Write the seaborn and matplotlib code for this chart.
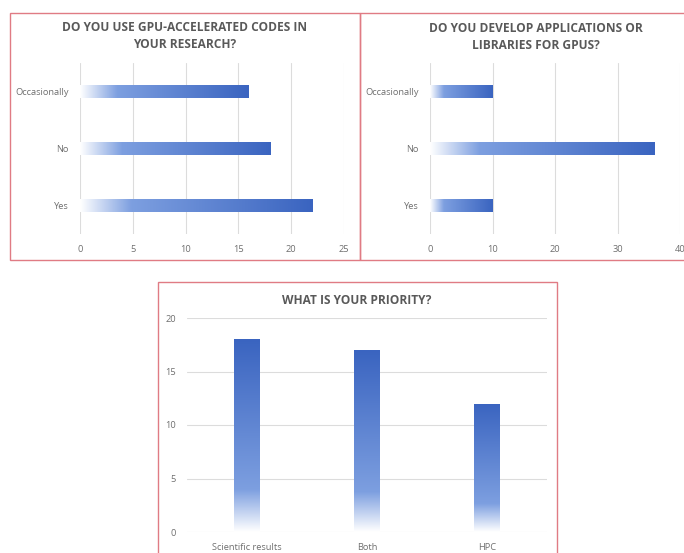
import numpy as np
import pandas as pd
import seaborn as sns
import matplotlib.pyplot as plt
from matplotlib.colors import LinearSegmentedColormap
from matplotlib.patches import Rectangle

use_cats = ['Occasionally', 'No', 'Yes']
use_vals = [16, 18, 22]
dev_cats = ['Occasionally', 'No', 'Yes']
dev_vals = [10, 36, 10]
prio_cats = ['Scientific results', 'Both', 'HPC']
prio_vals = [18, 17, 12]

sns.set_theme(style='white')
plt.rcParams['font.family'] = ['Open Sans', 'DejaVu Sans']

W, H = 684, 553
fig = plt.figure(figsize=(W / 100, H / 100), dpi=100)

grey = '#595959'
tick_grey = '#6f6f6f'
grad = LinearSegmentedColormap.from_list(
    'grad', [(0, '#ffffff'), (0.22, '#7d9fe0'), (1, '#3a64c0')])


def px_axes(l, t, r, b):
    return fig.add_axes([l / W, 1 - b / H, (r - l) / W, (b - t) / H])


def fade_bars(ax, horizontal):
    g = np.linspace(0, 1, 256)
    for p in ax.patches:
        x0, y0 = p.get_x(), p.get_y()
        w, h = p.get_width(), p.get_height()
        if horizontal:
            img = g[None, :]
            ext = [x0, x0 + w, y0 + h, y0]
        else:
            img = g[::-1, None]
            ext = [x0, x0 + w, y0, y0 + h]
        im = ax.imshow(img, cmap=grad, aspect='auto', origin='upper',
                       extent=ext, zorder=3)
        im.set_clip_path(p)
        p.set_facecolor('none')
        p.set_edgecolor('none')


def style(ax, grid_axis):
    sns.despine(ax=ax, left=True, bottom=True)
    ax.grid(True, axis=grid_axis, color='#dcdcdc', lw=0.8)
    ax.set_axisbelow(True)
    ax.tick_params(length=0, labelsize=6.7, colors=tick_grey, pad=8)
    ax.set_xlabel('')
    ax.set_ylabel('')


# panel 1
ax1 = px_axes(80, 63, 344, 234)
df1 = pd.DataFrame({'answer': use_cats, 'count': use_vals})
sns.barplot(data=df1, x='count', y='answer', ax=ax1, width=0.24,
            color='#4472c4', orient='h')
ax1.set_xlim(0, 25)
ax1.set_xticks([0, 5, 10, 15, 20, 25])
style(ax1, 'x')
fade_bars(ax1, True)
ax1.set_ylim(2.5, -0.5)

# panel 2
ax2 = px_axes(430, 63, 680, 234)
df2 = pd.DataFrame({'answer': dev_cats, 'count': dev_vals})
sns.barplot(data=df2, x='count', y='answer', ax=ax2, width=0.24,
            color='#4472c4', orient='h')
ax2.set_xlim(0, 40)
ax2.set_xticks([0, 10, 20, 30, 40])
style(ax2, 'x')
fade_bars(ax2, True)
ax2.set_ylim(2.5, -0.5)

# panel 3
ax3 = px_axes(187, 318, 547, 532)
df3 = pd.DataFrame({'priority': prio_cats, 'count': prio_vals})
sns.barplot(data=df3, x='priority', y='count', ax=ax3, width=0.21,
            color='#4472c4')
ax3.set_ylim(0, 20)
ax3.set_yticks([0, 5, 10, 15, 20])
style(ax3, 'y')
fade_bars(ax3, False)
ax3.set_xlim(-0.5, 2.5)
ax3.set_ylim(0, 20)

# titles
tkw = dict(ha='center', va='center', fontsize=8.6, fontweight='bold', color=grey)
fig.text(185 / W, 1 - 36 / H, 'DO YOU USE GPU-ACCELERATED CODES IN\nYOUR RESEARCH?',
         linespacing=1.35, **tkw)
fig.text(536 / W, 1 - 37 / H, 'DO YOU DEVELOP APPLICATIONS OR\nLIBRARIES FOR GPUS?',
         linespacing=1.35, **tkw)
fig.text(357 / W, 1 - 300 / H, 'WHAT IS YOUR PRIORITY?', **tkw)

# red frames
for l, t, r, b in [(10, 13, 360, 260), (360, 13, 690, 260), (158, 282, 557, 560)]:
    fig.patches.append(Rectangle((l / W, 1 - b / H), (r - l) / W, (b - t) / H,
                                 transform=fig.transFigure, fill=False,
                                 edgecolor='#e07b84', lw=1))

fig.savefig('out.png', dpi=100)
